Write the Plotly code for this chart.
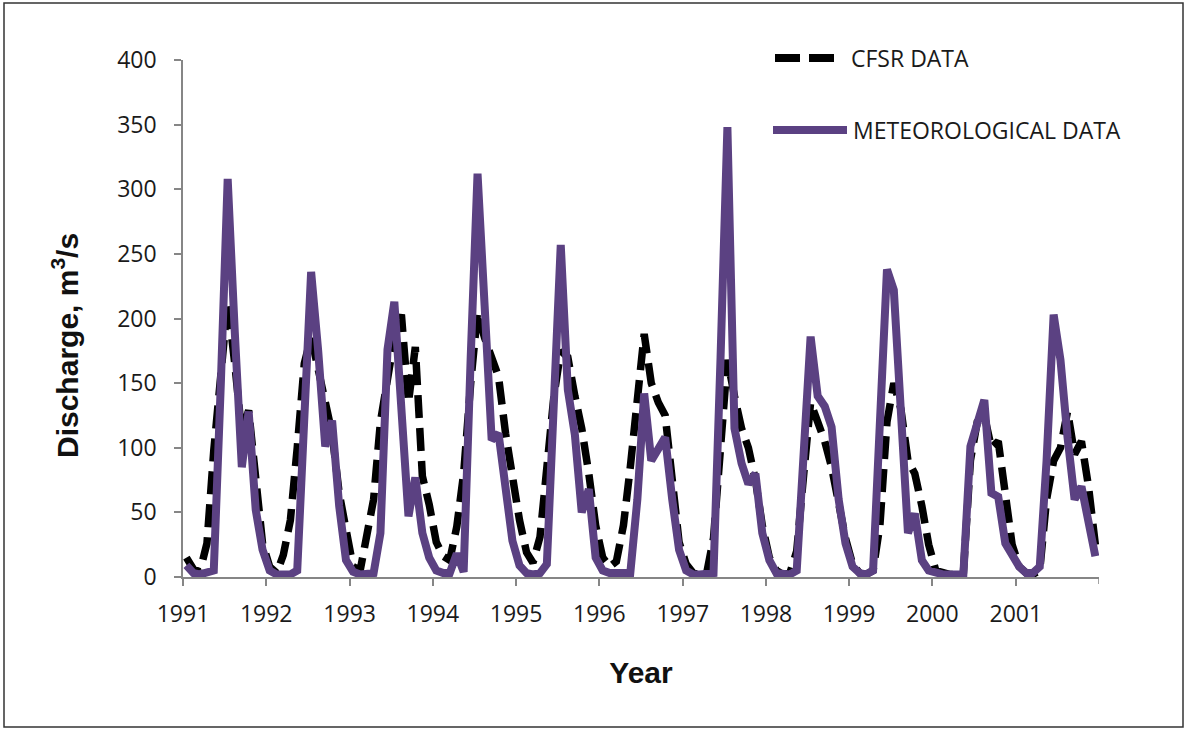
import pandas as pd
import plotly.graph_objects as go

# ---------------- data (monthly, Jan 1991 - Dec 2001) ----------------
years = list(range(1991, 2002))
tick_labels = [str(y) for y in years]

met_data = [
    # 1991
    9, 3, 2, 4, 5, 150, 308, 190, 85, 128, 52, 21,
    # 1992
    5, 2, 2, 2, 5, 120, 236, 175, 101, 121, 55, 13,
    # 1993
    4, 2, 2, 3, 34, 176, 213, 135, 47, 77, 34, 15,
    # 1994
    5, 3, 3, 18, 4, 170, 312, 210, 106, 111, 72, 28,
    # 1995
    9, 3, 2, 3, 10, 120, 257, 145, 110, 50, 68, 15,
    # 1996
    5, 3, 3, 3, 3, 60, 142, 90, 98, 108, 60, 21,
    # 1997
    5, 2, 2, 2, 3, 170, 348, 115, 88, 72, 80, 34,
    # 1998
    13, 3, 2, 2, 5, 95, 186, 140, 132, 116, 60, 26,
    # 1999
    8, 3, 2, 5, 120, 238, 222, 120, 34, 49, 13, 5,
    # 2000
    3, 2, 2, 2, 2, 101, 119, 137, 65, 62, 26, 18,
    # 2001
    8, 3, 3, 8, 90, 203, 168, 108, 60, 70, 44, 16,
]

cfsr_data = [
    # 1991
    15, 6, 4, 26, 98, 163, 213, 165, 111, 129, 73, 26,
    # 1992
    8, 3, 17, 44, 100, 165, 186, 160, 135, 111, 65, 34,
    # 1993
    8, 5, 30, 60, 120, 150, 185, 203, 135, 178, 78, 56,
    # 1994
    27, 16, 13, 39, 80, 150, 205, 185, 170, 155, 111, 75,
    # 1995
    44, 19, 11, 31, 80, 140, 175, 170, 140, 115, 80, 40,
    # 1996
    15, 8, 12, 40, 85, 140, 188, 150, 135, 125, 70, 27,
    # 1997
    10, 3, 2, 3, 30, 100, 168, 140, 115, 100, 75, 40,
    # 1998
    15, 5, 2, 3, 20, 80, 135, 120, 105, 85, 55, 30,
    # 1999
    10, 3, 2, 5, 40, 120, 150, 130, 90, 80, 55, 25,
    # 2000
    5, 3, 2, 2, 3, 90, 120, 125, 100, 105, 60, 25,
    # 2001
    8, 3, 2, 5, 60, 90, 100, 128, 95, 105, 70, 25,
]

months = pd.date_range("1991-01-01", periods=len(met_data), freq="MS") + pd.Timedelta(days=15)
year_ticks = pd.to_datetime([f"{y}-01-01" for y in years])
axis_end = pd.Timestamp("2002-01-01")

# ---------------- styling ----------------
W, H = 1188, 731
L, R, T, B = 183, 89, 60, 154
PURPLE = "#5b4182"
AXIS = "#868686"
FONT = "Open Sans"
TXT = "#1a1a1a"

fig = go.Figure()
fig.add_trace(go.Scatter(x=months, y=cfsr_data, mode="lines", name="CFSR DATA",
                         line=dict(color="black", width=7.5, dash="23px,10px"),
                         showlegend=False))
fig.add_trace(go.Scatter(x=months, y=met_data, mode="lines", name="METEOROLOGICAL DATA",
                         line=dict(color=PURPLE, width=8), showlegend=False))

pw, ph = W - L - R, H - T - B
def px(x):
    return (x - L) / pw
def py(y):
    return 1 - (y - T) / ph

shapes = [
    # outer frame
    dict(type="rect", xref="paper", yref="paper", x0=px(4), x1=px(1183), y0=py(727), y1=py(3),
         line=dict(color="#333333", width=1.5), fillcolor="rgba(0,0,0,0)", layer="below"),
    # closing tick at the end of the x axis
    dict(type="line", xref="x", yref="paper", x0=axis_end, x1=axis_end, y0=0, y1=-7 / ph,
         line=dict(color=AXIS, width=1.5)),
    # legend samples
    dict(type="line", xref="paper", yref="paper", x0=px(775), x1=px(836), y0=py(58), y1=py(58),
         line=dict(color="black", width=8, dash="25px,9px")),
    dict(type="line", xref="paper", yref="paper", x0=px(773), x1=px(847), y0=py(130), y1=py(130),
         line=dict(color=PURPLE, width=8)),
]
annotations = [
    dict(text="CFSR DATA", xref="paper", yref="paper", x=px(849), y=py(58), xanchor="left",
         yanchor="middle", showarrow=False, font=dict(family=FONT, size=23, color=TXT)),
    dict(text="METEOROLOGICAL DATA", xref="paper", yref="paper", x=px(851), y=py(130),
         xanchor="left", yanchor="middle", showarrow=False,
         font=dict(family=FONT, size=23, color=TXT)),
    dict(text="<b>Discharge, m<sup>3</sup>/s</b>", xref="paper", yref="paper",
         x=px(65), y=py(346), xanchor="center", yanchor="middle", textangle=-90,
         showarrow=False, font=dict(family="Liberation Sans", size=30, color="#111")),
]

fig.update_layout(
    width=W, height=H,
    margin=dict(l=L, r=R, t=T, b=B),
    paper_bgcolor="white", plot_bgcolor="white",
    shapes=shapes, annotations=annotations,
    font=dict(family=FONT, size=23, color=TXT),
)
fig.update_xaxes(
    range=[year_ticks[0], axis_end],
    tickvals=year_ticks, ticktext=tick_labels,
    ticks="outside", ticklen=7, tickcolor=AXIS, tickwidth=1.5,
    showline=True, linecolor=AXIS, linewidth=1.5, showgrid=False, zeroline=False,
    ticklabelstandoff=9,
    title=dict(text="<b>Year</b>", font=dict(family="Liberation Sans", size=30, color="#111"),
               standoff=34),
)
fig.update_yaxes(
    range=[0, 400], dtick=50,
    ticks="outside", ticklen=7, tickcolor=AXIS, tickwidth=1.5,
    showline=True, linecolor=AXIS, linewidth=1.5, showgrid=False, zeroline=False,
    ticklabelstandoff=13,
)

fig.write_html("out.html")
